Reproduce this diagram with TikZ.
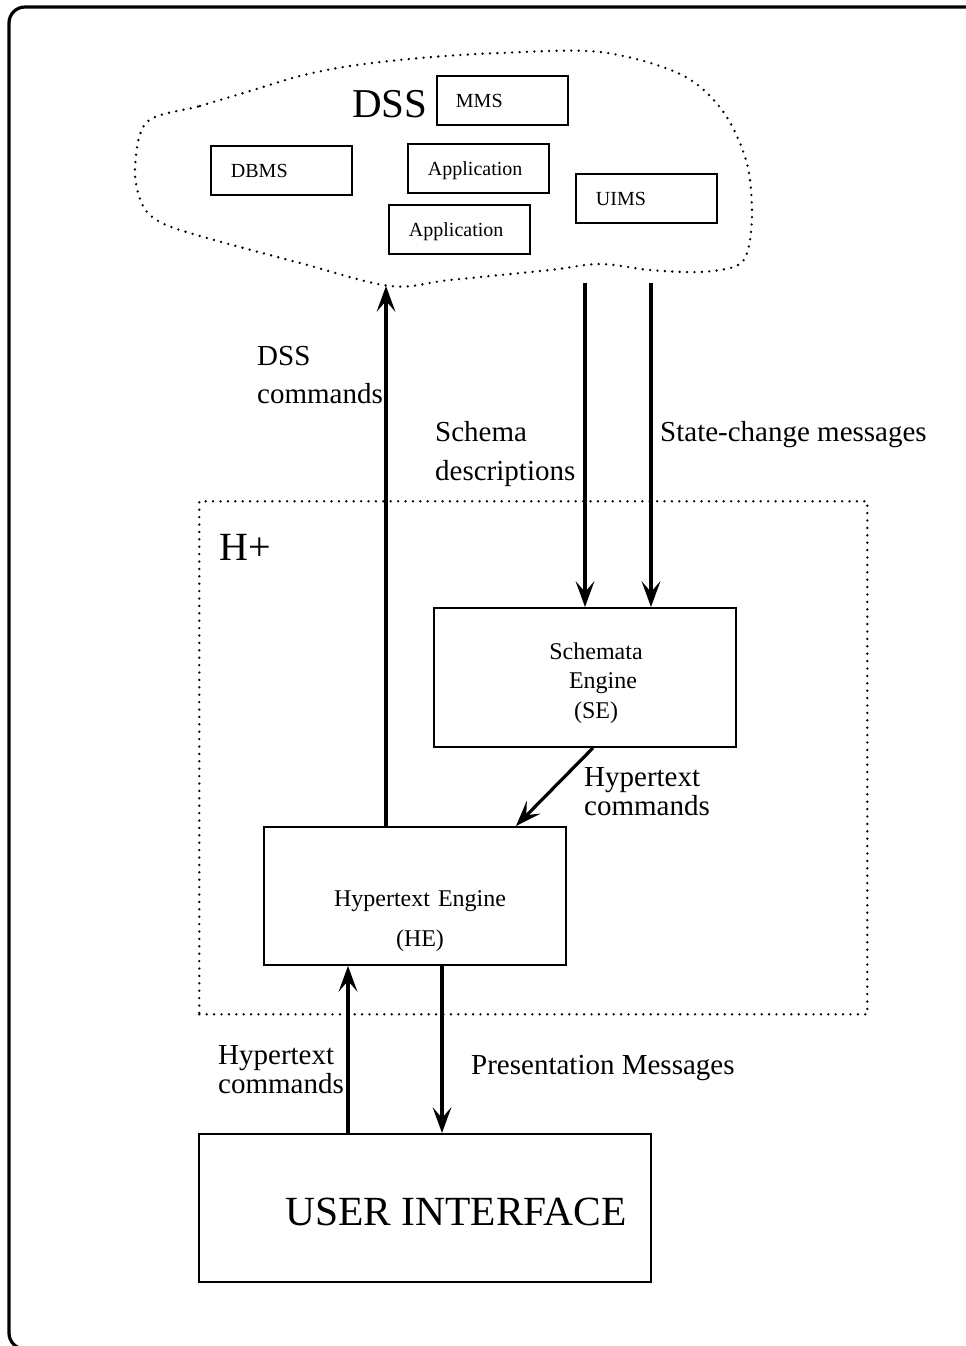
\documentclass[tikz,border=0pt]{standalone}
\usepackage{fontspec}
\setmainfont{Liberation Serif}
\usetikzlibrary{calc}

\tikzset{
  box/.style={draw, line width=1.9pt, inner sep=0pt, anchor=north west},
  smallbox/.style={box, minimum height=49pt, text height=14pt, text depth=0pt,
    inner xsep=20pt, align=left, font=\fontsize{20}{24}\selectfont},
  dotline/.style={line width=2.6pt, line cap=round, dash pattern=on 0pt off 7.4pt},
  shaft/.style={draw, line width=3.2pt, shorten >=12pt},
  % barbed arrow head, tip at the origin, pointing along +x
  headpic/.pic={\fill (0,0) -- (-26,-9.5) -- (-15,0) -- (-26,9.5) -- cycle;},
  lbl/.style={anchor=base west, inner sep=0pt, font=\fontsize{29}{29}\selectfont},
  lbltwo/.style={lbl, text width=200pt, align=left},
  title/.style={anchor=base west, inner sep=0pt, font=\fontsize{41}{41}\selectfont},
}

\begin{document}
\begin{tikzpicture}[x=1pt,y=-1pt]
\useasboundingbox (0,0) rectangle (966,1346);
\clip (0,0) rectangle (966,1346);
\fill[white] (0,0) rectangle (966,1346);

% outer frame
\draw[line width=3.2pt, rounded corners=16pt] (9,7) rectangle (1010,1349);

% DSS cloud
\draw[dotline] plot[smooth cycle, tension=0.55] coordinates {
  (147,122) (200,106) (250,91) (300,76) (350,66) (420,58) (500,53) (600,52)
  (680,74) (722,110) (746,160) (752,210) (748,250) (736,266)
  (700,272) (650,270) (600,264) (550,270) (450,280) (390,286)
  (300,263) (200,236) (160,222) (142,204) (135,168)};
\node[title] (dsstitle) at (352,117) {DSS};

\node[smallbox, text width=93pt, inner xsep=19pt] (mms) at (436,75) {MMS};
\node[smallbox, text width=101pt] (dbms) at (210,145) {DBMS};
\node[smallbox, text width=101pt] (app1) at (407,143) {Application};
\node[smallbox, text width=101pt] (app2) at (388,204) {Application};
\node[smallbox, text width=101pt] (uims) at (575,173) {UIMS};

% H+ region
\node[dotline, draw, anchor=north west, minimum width=668pt, minimum height=513pt,
  inner sep=0pt] (hplus) at (198,500) {};
\node[title, font=\fontsize{40}{40}\selectfont] (hplustitle) at (219,560) {H+};

% engines and user interface
\node[box, minimum width=302pt, minimum height=139pt] (se) at (433,607) {};
\node[anchor=base, inner sep=0pt, text width=200pt, align=center,
  font=\fontsize{24}{29.5}\selectfont] (setext) at (596,659)
  {Schemata\\\hspace*{14pt}Engine\\(SE)\hspace*{14pt}};

\node[box, minimum width=302pt, minimum height=138pt] (he) at (263,826) {};
\node[anchor=base, inner sep=0pt, text width=220pt, align=center,
  font=\fontsize{24}{40}\selectfont] (hetext) at (420,906)
  {\mbox{Hypertext Engine}\\(HE)};

\node[box, minimum width=452pt, minimum height=148pt] (ui) at (198,1133) {};
\node[title, font=\fontsize{41.5}{41.5}\selectfont] (uitext) at (285,1225) {USER INTERFACE};

% connector end points
\coordinate (dssin) at (386,286);
\coordinate (schemaout) at (585,283);
\coordinate (stateout) at (651,283);
\coordinate (dssfrom) at (dssin |- he.north);
\coordinate (schemato) at (schemaout |- se.north);
\coordinate (stateto) at (stateout |- se.north);
\coordinate (htfrom) at ($(se.south west)+(160,0)$);
\coordinate (htto) at ($(he.north west)+(253,0)$);
\coordinate (uifrom) at ($(ui.north west)+(150,0)$);
\coordinate (heup) at ($(he.south west)+(85,0)$);
\coordinate (hefrom) at ($(he.south west)+(179,0)$);
\coordinate (uito) at ($(ui.north west)+(244,0)$);

% connectors
\path[shaft] (dssfrom) -- (dssin);          \pic[rotate=90] at (dssin) {headpic};
\path[shaft] (schemaout) -- (schemato);     \pic[rotate=-90] at (schemato) {headpic};
\path[shaft] (stateout) -- (stateto);       \pic[rotate=-90] at (stateto) {headpic};
\path[shaft] (htfrom) -- (htto);            \pic[rotate=-133.2] at (htto) {headpic};
\path[shaft] (uifrom) -- (heup);            \pic[rotate=90] at (heup) {headpic};
\path[shaft] (hefrom) -- (uito);            \pic[rotate=-90] at (uito) {headpic};

% connector labels
\node[lbltwo, font=\fontsize{29}{38}\selectfont] (ldss) at (257,365) {DSS\\commands};
\node[lbltwo, font=\fontsize{29}{39}\selectfont] (lschema) at (435,441) {Schema\\descriptions};
\node[lbl] (lstate) at (660,441) {State-change messages};
\node[lbltwo] (lhtse) at (584,786) {Hypertext\\commands};
\node[lbltwo] (lhtui) at (218,1064) {Hypertext\\commands};
\node[lbl] (lpres) at (471,1074) {Presentation Messages};
\end{tikzpicture}
\end{document}
